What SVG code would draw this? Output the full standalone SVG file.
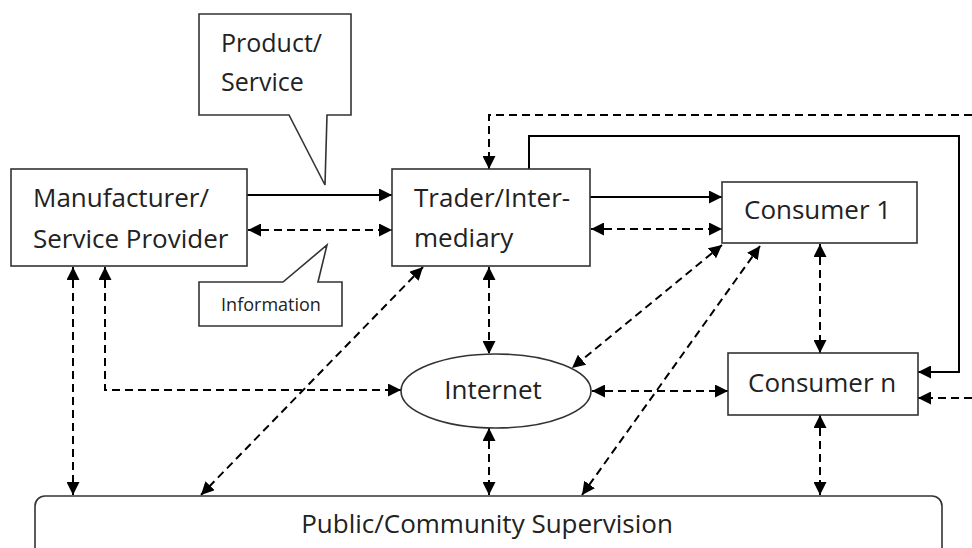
<svg xmlns="http://www.w3.org/2000/svg" width="972" height="548" viewBox="0 0 972 548">
<style>
.box{fill:#fff;stroke:#333;stroke-width:1.6}
.lbl{font-family:"Open Sans","Liberation Sans",sans-serif;font-size:26px;fill:#222}
.cl{font-family:"Open Sans","Liberation Sans",sans-serif;font-size:25px;fill:#222}
.small{font-family:"Open Sans","Liberation Sans",sans-serif;font-size:18px;fill:#222}
.solid{fill:none;stroke:#000;stroke-width:2}
.dash{fill:none;stroke:#000;stroke-width:2;stroke-dasharray:8 5}
</style>
<defs>
<marker id="ah" viewBox="0 0 12 12" refX="12" refY="6" markerWidth="13" markerHeight="13" markerUnits="userSpaceOnUse" orient="auto-start-reverse">
<path d="M0,0 L12,6 L0,12 z" fill="#000"/>
</marker>
</defs>
<g id="connectors">
<line class="solid" x1="247" y1="195" x2="392" y2="195" marker-end="url(#ah)"/>
<line class="dash" x1="248" y1="230" x2="392" y2="230" marker-start="url(#ah)" marker-end="url(#ah)"/>
<line class="solid" x1="590" y1="197" x2="722" y2="197" marker-end="url(#ah)"/>
<line class="dash" x1="591" y1="229" x2="722" y2="229" marker-start="url(#ah)" marker-end="url(#ah)"/>
<polyline class="solid" points="529,169 529,136 959,136 959,372 918,372" marker-end="url(#ah)"/>
<polyline class="dash" points="972,115 489,115 489,169" marker-end="url(#ah)"/>
<line class="dash" x1="972" y1="398" x2="918" y2="398" marker-end="url(#ah)"/>
<line class="dash" x1="489" y1="267" x2="489" y2="354" marker-start="url(#ah)" marker-end="url(#ah)"/>
<line class="dash" x1="489" y1="428" x2="489" y2="495" marker-start="url(#ah)" marker-end="url(#ah)"/>
<line class="dash" x1="820" y1="244" x2="820" y2="353" marker-start="url(#ah)" marker-end="url(#ah)"/>
<line class="dash" x1="820" y1="415" x2="820" y2="495" marker-start="url(#ah)" marker-end="url(#ah)"/>
<line class="dash" x1="592" y1="391" x2="728" y2="391" marker-start="url(#ah)" marker-end="url(#ah)"/>
<line class="dash" x1="722" y1="245" x2="572" y2="368" marker-start="url(#ah)" marker-end="url(#ah)"/>
<line class="dash" x1="760" y1="246" x2="582" y2="495" marker-start="url(#ah)" marker-end="url(#ah)"/>
<line class="dash" x1="423" y1="267" x2="201" y2="495" marker-start="url(#ah)" marker-end="url(#ah)"/>
<polyline class="dash" points="105,267 105,390 401,390" marker-start="url(#ah)" marker-end="url(#ah)"/>
<line class="dash" x1="73" y1="267" x2="73" y2="495" marker-start="url(#ah)" marker-end="url(#ah)"/>
</g>
<g id="manufacturer">
<rect class="box" x="11" y="169" width="236" height="97"/>
<text class="lbl" x="33" y="207">Manufacturer/</text>
<text class="lbl" x="33" y="248">Service Provider</text>
</g>
<g id="trader">
<rect class="box" x="392" y="169" width="198" height="97"/>
<text class="lbl" x="414" y="207">Trader/Inter-</text>
<text class="lbl" x="414" y="247">mediary</text>
</g>
<g id="consumer1">
<rect class="box" x="722" y="182" width="195" height="61"/>
<text class="lbl" x="744" y="219">Consumer 1</text>
</g>
<g id="consumern">
<rect class="box" x="728" y="353" width="190" height="62"/>
<text class="lbl" x="748" y="392">Consumer n</text>
</g>
<g id="internet">
<ellipse class="box" cx="496" cy="391" rx="95" ry="37"/>
<text class="lbl" x="493" y="399" text-anchor="middle">Internet</text>
</g>
<g id="public">
<rect class="box" x="35" y="496" width="907" height="80" rx="10"/>
<text class="lbl" x="487" y="533" text-anchor="middle">Public/Community Supervision</text>
</g>
<g id="callout-product">
<path class="box" d="M199,14 H351 V115 H327 L325,185 L289,115 H199 Z"/>
<text class="cl" x="221" y="52">Product/</text>
<text class="cl" x="221" y="91">Service</text>
</g>
<g id="callout-information">
<path class="box" d="M199,282 H283 L327,245 L318,282 H342 V326 H199 Z"/>
<text class="small" x="271" y="311" text-anchor="middle">Information</text>
</g>
</svg>
